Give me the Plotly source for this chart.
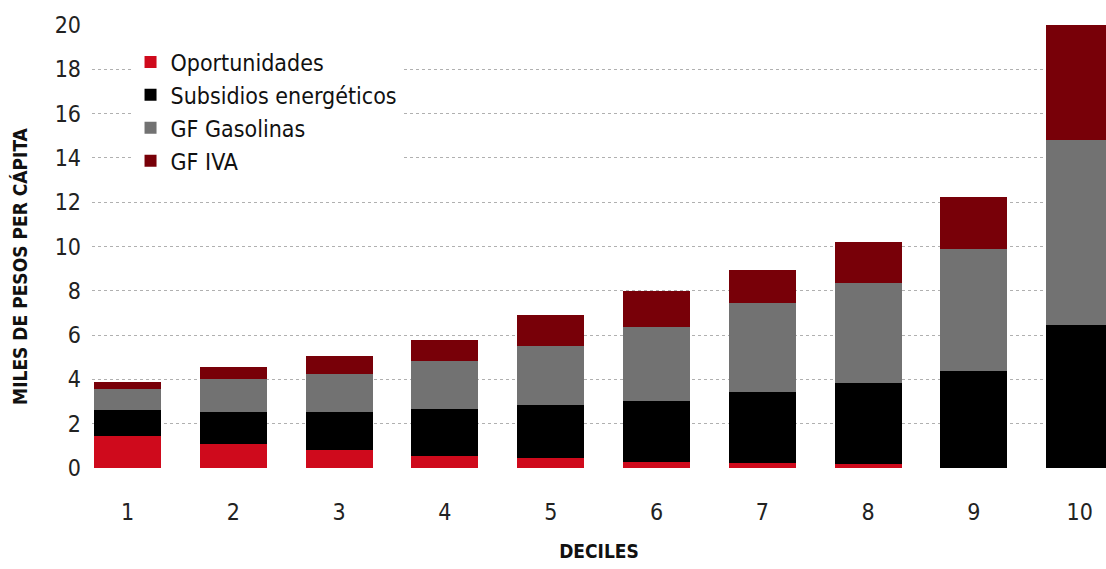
import plotly.graph_objects as go

deciles = ["1", "2", "3", "4", "5", "6", "7", "8", "9", "10"]
oportunidades = [1.44, 1.07, 0.81, 0.54, 0.47, 0.27, 0.23, 0.17, 0.0, 0.0]
subsidios = [1.18, 1.47, 1.70, 2.11, 2.37, 2.74, 3.21, 3.65, 4.38, 6.46]
gasolinas = [0.95, 1.48, 1.73, 2.19, 2.68, 3.34, 3.99, 4.55, 5.51, 8.35]
iva = [0.33, 0.55, 0.82, 0.94, 1.39, 1.65, 1.51, 1.82, 2.33, 5.19]

series_names = ["Oportunidades", "Subsidios energéticos", "GF Gasolinas", "GF IVA"]
series_vals = [oportunidades, subsidios, gasolinas, iva]
colors = ["#CF0A1C", "#000000", "#727272", "#780008"]
yticks = [0, 2, 4, 6, 8, 10, 12, 14, 16, 18, 20]
y_title = "MILES DE PESOS PER CÁPITA"
x_title = "DECILES"

FONT = "Liberation Sans Narrow, DejaVu Sans Condensed, Roboto Condensed, sans-serif"

xs = [int(d) for d in deciles]
fig = go.Figure()
for name, vals, col in zip(series_names, series_vals, colors):
    fig.add_trace(go.Bar(x=xs, y=vals, name=name, marker=dict(color=col, line=dict(width=0))))

fig.update_layout(
    barmode="stack",
    bargap=0.367,
    width=1106, height=569,
    margin=dict(l=92, r=0, t=25, b=101),
    plot_bgcolor="white", paper_bgcolor="white",
    font=dict(family=FONT, color="#222222", size=23),
    legend=dict(
        x=0.038, y=0.965, xanchor="left", yanchor="top",
        bgcolor="white", traceorder="normal",
        font=dict(family=FONT, size=23, color="#111111"),
        itemwidth=30, tracegroupgap=0,
        borderwidth=0,
    ),
    xaxis=dict(
        range=[0.664, 10.249],
        tickvals=xs, ticktext=deciles,
        showgrid=False, zeroline=False, showline=False,
        ticks="", ticklabelstandoff=28,
        tickfont=dict(family=FONT, size=23, color="#222222"),
        title=dict(text="<b>" + x_title + "</b>", font=dict(family=FONT, size=19, color="#111111"), standoff=20),
    ),
    yaxis=dict(
        range=[0, 20], tickvals=yticks,
        showgrid=True, gridcolor="#B0B0B0", griddash="dot", gridwidth=1,
        zeroline=False, showline=False, ticks="",
        ticklabelstandoff=10,
        tickfont=dict(family=FONT, size=23, color="#222222"),
    ),
    annotations=[dict(
        text="<b>" + y_title + "</b>", textangle=-90,
        xref="paper", yref="paper", x=-0.071, y=0.454,
        xanchor="center", yanchor="middle", showarrow=False,
        font=dict(family=FONT, size=19, color="#111111"),
    )],
)

fig.write_html(
    "out.html",
    config={"displayModeBar": False},
    post_script="document.body.style.margin='0';document.body.style.padding='0';",
)
